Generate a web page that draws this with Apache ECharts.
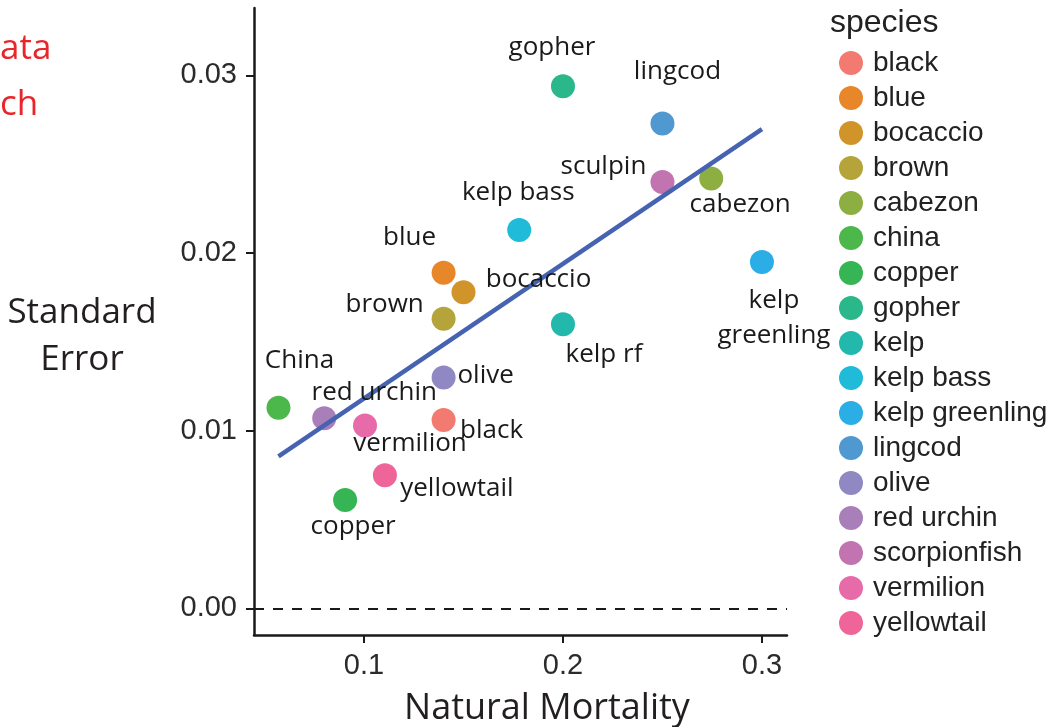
<!DOCTYPE html>
<html><head><meta charset="utf-8">
<script src="https://cdn.jsdelivr.net/npm/echarts@6/dist/echarts.min.js"></script>
<style>html,body{margin:0;padding:0;background:#fff}#c{width:1049px;height:727px}</style>
</head><body><div id="c"></div>
<script>
// ---- data ----
const species = ['black','blue','bocaccio','brown','cabezon','china','copper','gopher','kelp','kelp bass','kelp greenling','lingcod','olive','red urchin','scorpionfish','vermilion','yellowtail'];
const pointLabels = ['black','blue','bocaccio','brown','cabezon','China','copper','gopher','kelp rf','kelp bass','kelp\ngreenling','lingcod','olive','red urchin','sculpin','vermilion','yellowtail'];
const mortality = [0.140,0.140,0.150,0.140,0.2745,0.057,0.0905,0.200,0.200,0.178,0.300,0.250,0.140,0.080,0.250,0.1005,0.1105];
const stdError  = [0.0106,0.0189,0.0178,0.0163,0.0242,0.0113,0.0061,0.0294,0.0160,0.0213,0.0195,0.0273,0.0130,0.0107,0.0240,0.0103,0.0075];
const fitX = [0.057, 0.300];
const fitY = [0.00856, 0.02698];
const xTicks = [0.1, 0.2, 0.3];
const yTicks = [0.00, 0.01, 0.02, 0.03];

// ---- styling ----
const colors = ['#F37A70','#E8862A','#D1942A','#B5A43A','#8DAF42','#4CB74B','#35B553','#2AB78A','#22B9AC','#1FBBD8','#2AAEE5','#4F98D0','#8F88C2','#A87FB8','#C274B0','#E66BA8','#EF659A'];
const labelOffsets = {
  'black':[48,11],'blue':[-34,-35],'bocaccio':[75,-13],'brown':[-59,-14],'cabezon':[29,26],
  'china':[21,-47],'copper':[8,27],'gopher':[-11,-39],'kelp':[41,30],'kelp bass':[-1,-37],
  'kelp greenling':[12,56],'lingcod':[15,-52],'olive':[42,-2],'red urchin':[50,-26],
  'scorpionfish':[-59,-15],'vermilion':[45,18],'yellowtail':[72,13]
};
const LBL_FONT = '"Open Sans", "DejaVu Sans", sans-serif';
const AX_FONT = '"Liberation Sans", Arial, sans-serif';

const chart = echarts.init(document.getElementById('c'), null, {renderer:'canvas'});

const series = species.map((s, i) => ({
  name: s, type: 'scatter', z: 2,
  symbol: 'circle', symbolSize: 24,
  itemStyle: {color: colors[i], opacity: 1},
  data: [[mortality[i], stdError[i]]],
  emphasis: {disabled: true}
}));

series.push({
  name: 'fit', type: 'line', z: 3, silent: true,
  symbol: 'none',
  lineStyle: {color: '#4563B0', width: 4.5},
  data: fitX.map((x, i) => [x, fitY[i]]),
  markLine: {
    silent: true, symbol: 'none', label: {show: false},
    lineStyle: {color: '#1a1a1a', width: 2, type: [10, 9]},
    data: [{yAxis: 0}]
  }
});

series.push({
  name: 'labels', type: 'scatter', z: 5, silent: true,
  symbol: 'circle', symbolSize: 0, itemStyle: {color: '#000', opacity: 1},
  emphasis: {disabled: true},
  data: species.map((s, i) => ({
    value: [mortality[i], stdError[i]],
    label: {
      show: true, position: 'inside', offset: labelOffsets[s],
      formatter: pointLabels[i], color: '#1a1a1a', opacity: 1,
      textBorderWidth: 0, textShadowBlur: 0,
      fontFamily: LBL_FONT, fontSize: 26, lineHeight: 35,
      align: 'center', verticalAlign: 'middle'
    }
  }))
});

chart.setOption({
  animation: false,
  backgroundColor: '#ffffff',
  grid: {left: 254, right: 262, top: 8, bottom: 92, containLabel: false},
  xAxis: {
    type: 'value', min: 0.0447, max: 0.3126,
    splitLine: {show: false},
    axisLine: {show: true, onZero: false, lineStyle: {color: '#1a1a1a', width: 2.5}},
    axisTick: {show: true, customValues: xTicks, length: 8, lineStyle: {color: '#1a1a1a', width: 2}},
    axisLabel: {customValues: xTicks, formatter: v => v.toFixed(1), color: '#2b2b2b', fontFamily: AX_FONT, fontSize: 29, margin: 16}
  },
  yAxis: {
    type: 'value', min: -0.0015, max: 0.0338,
    splitLine: {show: false},
    axisLine: {show: true, onZero: false, lineStyle: {color: '#1a1a1a', width: 2.5}},
    axisTick: {show: true, customValues: yTicks, length: 8, lineStyle: {color: '#1a1a1a', width: 2}},
    axisLabel: {customValues: yTicks, formatter: v => v.toFixed(2), color: '#2b2b2b', fontFamily: AX_FONT, fontSize: 29, margin: 17}
  },
  legend: {
    show: true, orient: 'vertical', left: 834, top: 43,
    data: species, icon: 'circle', itemWidth: 24, itemHeight: 24, itemGap: 5,
    selectedMode: false,
    textStyle: {color: '#222', fontFamily: AX_FONT, fontSize: 28, lineHeight: 30, padding: [0, 0, 0, 5]}
  },
  graphic: [
    {type: 'text', left: 830, top: 7, style: {text: 'species', font: '32px "Liberation Sans", Arial, sans-serif', fill: '#222'}},
    {type: 'text', x: 82, y: 337, style: {text: 'Standard\nError', font: '35px "Open Sans", sans-serif', fill: '#231F20', align: 'center', verticalAlign: 'middle', lineHeight: 47}},
    {type: 'text', x: 547, y: 709, style: {text: 'Natural Mortality', font: '36px "Open Sans", sans-serif', fill: '#231F20', align: 'center', verticalAlign: 'middle'}},
    {type: 'text', x: 0, y: 32, style: {text: 'ata', font: '35px "Open Sans", sans-serif', fill: '#E8262A', align: 'left', verticalAlign: 'alphabetic'}},
    {type: 'text', x: 0, y: 88, style: {text: 'ch', font: '35px "Open Sans", sans-serif', fill: '#E8262A', align: 'left', verticalAlign: 'alphabetic'}}
  ],
  series: series
});
</script>
</body></html>
